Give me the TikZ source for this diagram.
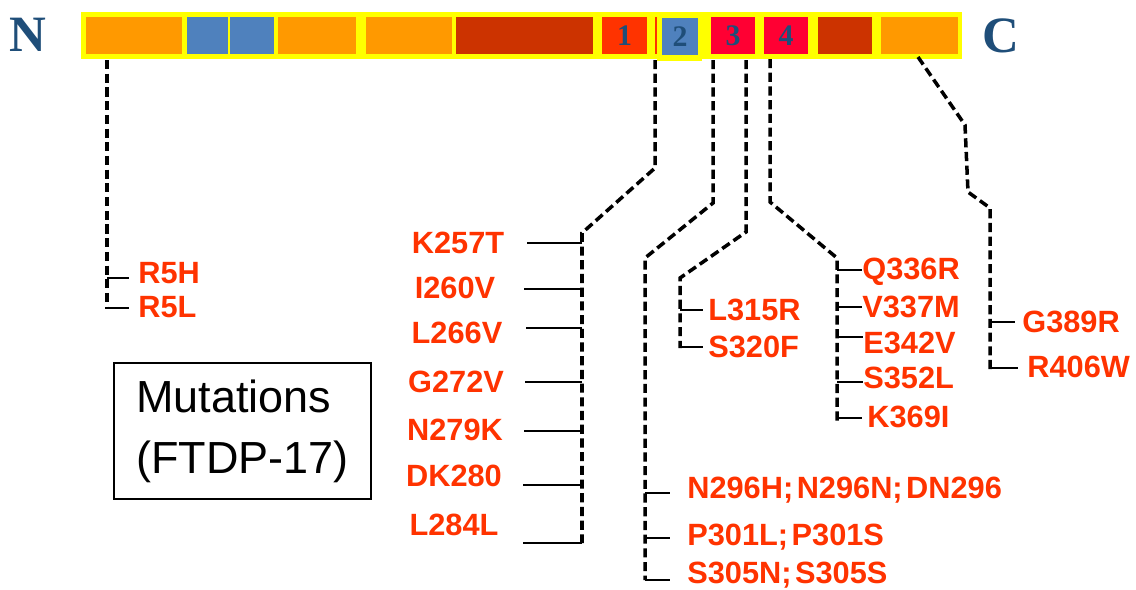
\documentclass[tikz,border=0pt]{standalone}
\usepackage{fontspec}
\setmainfont{Liberation Serif}
\newfontfamily\arialfont{Liberation Sans}
\usetikzlibrary{calc}
\definecolor{baryellow}{RGB}{255,255,0}
\definecolor{domorange}{RGB}{255,153,0}
\definecolor{domblue}{RGB}{79,129,189}
\definecolor{domrust}{RGB}{204,51,0}
\definecolor{domred}{RGB}{255,51,0}
\definecolor{rptred}{RGB}{255,0,51}
\definecolor{navy}{RGB}{31,78,121}
\definecolor{mutred}{RGB}{255,51,0}
\tikzset{
  bar/.style={fill=baryellow, minimum width=17.62cm, minimum height=0.94cm, inner sep=0pt},
  seg/.style={fill=#1, minimum height=0.74cm, inner sep=0pt, text=navy,
    font=\bfseries\fontsize{17}{17}\selectfont},
  term/.style={text=navy, inner sep=0pt, font=\bfseries\fontsize{29}{29}\selectfont},
  mut/.style={text=mutred, inner sep=0pt, font=\arialfont\bfseries\fontsize{17.5}{18}\selectfont},
  mutleft/.style={mut, minimum width=1.92cm},
  trunk/.style={line width=2pt, dash pattern=on 5.2pt off 2.6pt},
  tick/.style={line width=1.3pt},
  legend/.style={draw, line width=1.1pt, minimum width=5.14cm, minimum height=2.72cm,
    align=left, inner sep=0pt, font=\arialfont\fontsize{25.6}{34.7}\selectfont}
}
\begin{document}
\begin{tikzpicture}[x=0.02cm, y=-0.02cm]
\useasboundingbox (0,0) rectangle (1136,589);
% protein bar
\node[bar] (bar) at (521.5,35.5) {};
\node[seg=domorange, minimum width=1.92cm] (s1) at (134,35.5) {};
\node[seg=domblue, minimum width=0.82cm] (s2) at (207.5,35.5) {};
\node[seg=domblue, minimum width=0.88cm] (s3) at (252,35.5) {};
\node[seg=domorange, minimum width=1.56cm] (s4) at (317,35.5) {};
\node[seg=domorange, minimum width=1.72cm] (s5) at (409,35.5) {};
\node[seg=domrust, minimum width=2.74cm] (s6) at (524.5,35.5) {};
\node[seg=domred, minimum width=0.90cm] (r1) at (624.5,35.5) {1};
\fill[domred] (655,17) rectangle (657,54);
\node[fill=baryellow, minimum width=0.9cm, minimum height=0.94cm, inner sep=0pt] (r2f) at (679.5,38) {};
\node[seg=domblue, minimum width=0.72cm] (r2) at (680,36.5) {2};
\node[seg=rptred, minimum width=0.88cm] (r3) at (733,35.5) {3};
\node[seg=rptred, minimum width=0.88cm] (r4) at (786,35.5) {4};
\node[seg=domrust, minimum width=1.08cm] (s7) at (845,35.5) {};
\node[seg=domorange, minimum width=1.54cm] (s8) at (919.5,35.5) {};
\node[term] (nterm) at (28,35) {N};
\node[term] (cterm) at (1001,36) {C};
% N-terminal
\node[mut, anchor=west] (r5h) at (138,273) {R5H};
\node[mut, anchor=west] (r5l) at (138,307) {R5L};
\draw[trunk] (107,60) -- (107,308);
\draw[tick, shorten >=5pt] (107,278) -- (r5h.west |- 107,278);
\draw[tick, shorten >=5pt] (105,308) -- (r5l.west |- 105,308);
% repeat 1
\node[mutleft] (k257t) at (458,243) {K257T};
\node[mutleft] (i260v) at (455,288) {I260V};
\node[mutleft] (l266v) at (457,333) {L266V};
\node[mutleft] (g272v) at (456,382) {G272V};
\node[mutleft] (n279k) at (455,430) {N279K};
\node[mutleft] (dk280) at (454,476) {DK280};
\node[mutleft] (l284l) at (454,525) {L284L};
\draw[trunk] (655,60) -- (655,168) -- (582,233) -- (582,543);
\draw[tick, shorten >=12pt] (582,243) -- (k257t.east |- 582,243);
\draw[tick, shorten >=12pt] (582,289) -- (i260v.east |- 582,289);
\draw[tick, shorten >=12pt] (582,328) -- (l266v.east |- 582,328);
\draw[tick, shorten >=12pt] (582,382) -- (g272v.east |- 582,382);
\draw[tick, shorten >=12pt] (582,431) -- (n279k.east |- 582,431);
\draw[tick, shorten >=12pt] (582,485) -- (dk280.east |- 582,485);
\draw[tick, shorten >=12pt] (582,543) -- (l284l.east |- 582,543);
% repeat 2
\node[mut, anchor=west] (n296) at (687,490) {N296H;\kern2pt N296N;\kern2pt DN296};
\node[mut, anchor=west] (p301) at (687,537) {P301L;\kern2pt P301S};
\node[mut, anchor=west] (s305) at (687,575) {S305N;\kern2pt S305S};
\draw[trunk] (713,60) -- (713,203) -- (645,258) -- (645,580);
\draw[tick, shorten >=9.5pt] (645,493) -- (n296.west |- 645,493);
\draw[tick, shorten >=9.5pt] (645,538) -- (p301.west |- 645,538);
\draw[tick, shorten >=9.5pt] (645,580) -- (s305.west |- 645,580);
% repeat 3
\node[mut, anchor=west] (l315r) at (708,310) {L315R};
\node[mut, anchor=west] (s320f) at (708,347) {S320F};
\draw[trunk] (746,60) -- (746,232) -- (680,278) -- (680,348);
\draw[tick, shorten >=2.8pt] (680,310) -- (l315r.west |- 680,310);
\draw[tick, shorten >=2.8pt] (680,347) -- (s320f.west |- 680,347);
% repeat 4
\node[mut, anchor=west] (q336r) at (862,272) {Q336R};
\node[mut, anchor=west] (v337m) at (862,307) {V337M};
\node[mut, anchor=west] (e342v) at (863,343) {E342V};
\node[mut, anchor=west] (s352l) at (863,378) {S352L};
\node[mut, anchor=west] (k369i) at (867,417) {K369I};
\draw[trunk] (770,59) -- (770,202) -- (837,258) -- (837,422);
\draw[tick] (837,270) -- (q336r.west |- 837,270);
\draw[tick] (837,307) -- (v337m.west |- 837,307);
\draw[tick] (837,337) -- (e342v.west |- 837,337);
\draw[tick] (837,382) -- (s352l.west |- 837,382);
\draw[tick, shorten >=2.8pt] (837,418) -- (k369i.west |- 837,418);
% C-terminal
\node[mut, anchor=west] (g389r) at (1022,322) {G389R};
\node[mut, anchor=west] (r406w) at (1027,367) {R406W};
\draw[trunk] (918,57) -- (965,125) -- (968,192) -- (990,208) -- (990,372);
\draw[tick, shorten >=4pt] (990,322) -- (g389r.west |- 990,322);
\draw[tick, shorten >=5pt] (990,368) -- (r406w.west |- 990,368);
% legend
\node[legend] (legend) at (242.5,431) {Mutations\\(FTDP-17)};
\end{tikzpicture}
\end{document}
